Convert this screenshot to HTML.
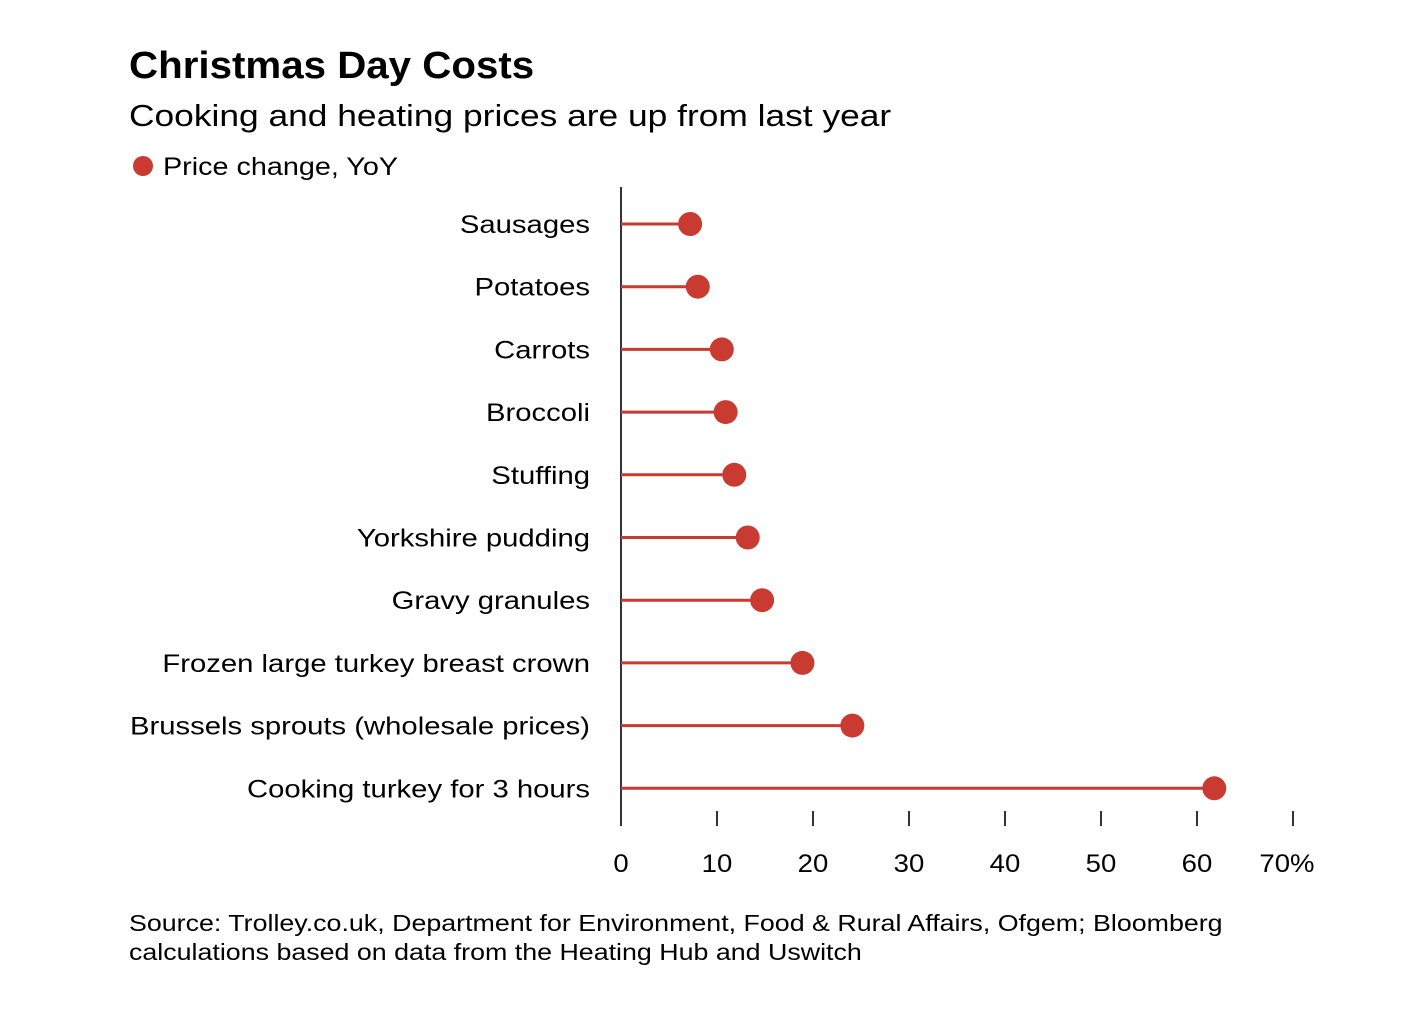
<!DOCTYPE html>
<html><head><meta charset="utf-8"><style>
body{margin:0;background:#fff;}
svg{display:block;font-family:"Liberation Sans",sans-serif;}
</style></head><body>
<svg width="1424" height="1016" viewBox="0 0 1424 1016">
<text class="wide" data-s="1.06" x="129" y="78" font-size="38" font-weight="bold" fill="#000">Christmas Day Costs</text>
<text class="wide" data-s="1.14" x="129" y="126" font-size="31" fill="#000">Cooking and heating prices are up from last year</text>
<circle cx="143" cy="166" r="10" fill="#c93b30"></circle>
<text class="wide" data-s="1.15" x="163" y="175" font-size="25" fill="#000">Price change, YoY</text>
<g id="plot"></g>
<text class="wide" data-s="1.165" x="129" y="931" font-size="23" fill="#000">Source: Trolley.co.uk, Department for Environment, Food &amp; Rural Affairs, Ofgem; Bloomberg</text>
<text class="wide" data-s="1.165" x="129" y="960" font-size="23" fill="#000">calculations based on data from the Heating Hub and Uswitch</text>
</svg>
<script>
const categories = ["Sausages","Potatoes","Carrots","Broccoli","Stuffing","Yorkshire pudding","Gravy granules","Frozen large turkey breast crown","Brussels sprouts (wholesale prices)","Cooking turkey for 3 hours"];
const values = [7.2, 8.0, 10.5, 10.9, 11.8, 13.2, 14.7, 18.9, 24.1, 61.8];
const ticks = [0,10,20,30,40,50,60,70];
const tickLabels = ["0","10","20","30","40","50","60","70%"];

const NS = "http://www.w3.org/2000/svg";
const g = document.getElementById("plot");
const x = v => 621 + v * 9.6;
const y = i => 224 + i * 62.7;
function mk(tag, attrs){const e=document.createElementNS(NS,tag);for(const k in attrs)e.setAttribute(k,attrs[k]);g.appendChild(e);return e;}

const axis = mk("line",{x1:621,x2:621,y1:187,y2:826,stroke:"#333","stroke-width":2});



ticks.forEach((t,i)=>{
  if(t>0){
    const tk = mk("line",{x1:x(t),x2:x(t),y1:811,y2:826,stroke:"#333","stroke-width":2});
    
    
  }
  const lbl = mk("text",{x:x(t)+(i===ticks.length-1?-6:0),y:872,"font-size":25,"text-anchor":"middle",fill:"#000","class":"wide","data-s":"1.1"});
  lbl.textContent = tickLabels[i];
  
  
});

categories.forEach((c,i)=>{
  const lbl = mk("text",{x:590,y:y(i)+9,"font-size":25,"text-anchor":"end",fill:"#000","class":"wide","data-s":"1.17"});
  lbl.textContent = c;
  
  
  const ln = mk("line",{x1:621,x2:x(values[i]),y1:y(i),y2:y(i),stroke:"#c93b30","stroke-width":3});
  
  
  const dot = mk("circle",{cx:x(values[i]),cy:y(i),r:12,fill:"#c93b30"});
  
  
});

document.querySelectorAll("text.wide").forEach(t=>{
  const s = parseFloat(t.getAttribute("data-s"));
  const w = t.getComputedTextLength();
  t.setAttribute("textLength", (w*s).toFixed(1));
  t.setAttribute("lengthAdjust", "spacingAndGlyphs");
});
</script>
</body></html>
